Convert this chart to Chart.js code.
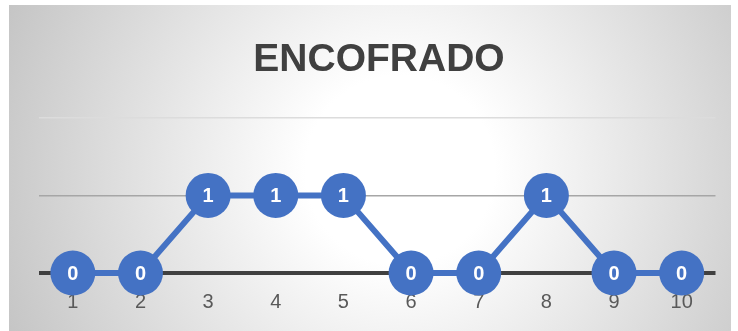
<!DOCTYPE html>
<html>
<head>
<meta charset="utf-8">
<script src="https://cdn.jsdelivr.net/npm/chart.js@4"></script>
<style>
  html, body { margin: 0; padding: 0; background: #fff; }
  #wrap { width: 738px; height: 331px; }
</style>
</head>
<body>
<div id="wrap"><canvas id="chart" width="738" height="331"></canvas></div>
<script>
// datos del gráfico
const categorias = ["1", "2", "3", "4", "5", "6", "7", "8", "9", "10"];
const valores = [0, 0, 1, 1, 1, 0, 0, 1, 0, 0];
const titulo = "ENCOFRADO";

// fondo degradado estilo Excel
const fondo = {
  id: "fondo",
  beforeDraw(chart) {
    const c = chart.ctx;
    c.save();
    c.fillStyle = "#ffffff";
    c.fillRect(0, 0, chart.width, chart.height);
    const g = c.createRadialGradient(400, 170, 0, 400, 170, 430);
    g.addColorStop(0, "#ffffff");
    g.addColorStop(0.22, "#ffffff");
    g.addColorStop(1, "#c4c4c4");
    c.fillStyle = g;
    c.fillRect(9, 5, 722, 326);
    c.restore();
  }
};

// etiquetas dentro de los puntos
const etiquetas = {
  id: "etiquetas",
  afterDatasetsDraw(chart) {
    const c = chart.ctx;
    const meta = chart.getDatasetMeta(0);
    c.save();
    c.fillStyle = "#ffffff";
    c.font = "bold 20px 'Liberation Sans', Arial, sans-serif";
    c.textAlign = "center";
    c.textBaseline = "middle";
    meta.data.forEach((p, i) => {
      c.fillText(String(valores[i]), p.x, p.y + 1);
    });
    c.restore();
  }
};

const ctx = document.getElementById("chart").getContext("2d");
new Chart(ctx, {
  type: "line",
  data: {
    labels: categorias,
    datasets: [{
      data: valores,
      borderColor: "#4472C4",
      backgroundColor: "#4472C4",
      borderWidth: 6,
      pointRadius: 22.5,
      pointHoverRadius: 22.5,
      pointBorderWidth: 0,
      tension: 0,
      clip: false
    }]
  },
  options: {
    responsive: false,
    animation: false,
    layout: { padding: { left: 39, right: 19, top: 0, bottom: 0 } },
    plugins: {
      legend: { display: false },
      tooltip: { enabled: false },
      title: {
        display: true,
        text: titulo,
        color: "#404040",
        font: { family: "'Liberation Sans', Arial, sans-serif", size: 39, weight: "bold", lineHeight: 1.2 },
        padding: { top: 37, bottom: 34 }
      }
    },
    scales: {
      x: {
        offset: true,
        grid: { display: false, drawTicks: false },
        border: { display: false },
        ticks: {
          color: "#595959",
          padding: 17,
          font: { family: "'Liberation Sans', Arial, sans-serif", size: 20 }
        }
      },
      y: {
        min: 0,
        max: 2,
        ticks: { display: false, stepSize: 1 },
        border: { display: false },
        grid: {
          drawTicks: false,
          color: c => c.tick.value === 0 ? "#404040" : (c.tick.value === 1 ? "#a6a6a6" : "#dcdcdc"),
          lineWidth: c => c.tick.value === 0 ? 4 : 1.5
        }
      }
    }
  },
  plugins: [fondo, etiquetas]
});
</script>
</body>
</html>
